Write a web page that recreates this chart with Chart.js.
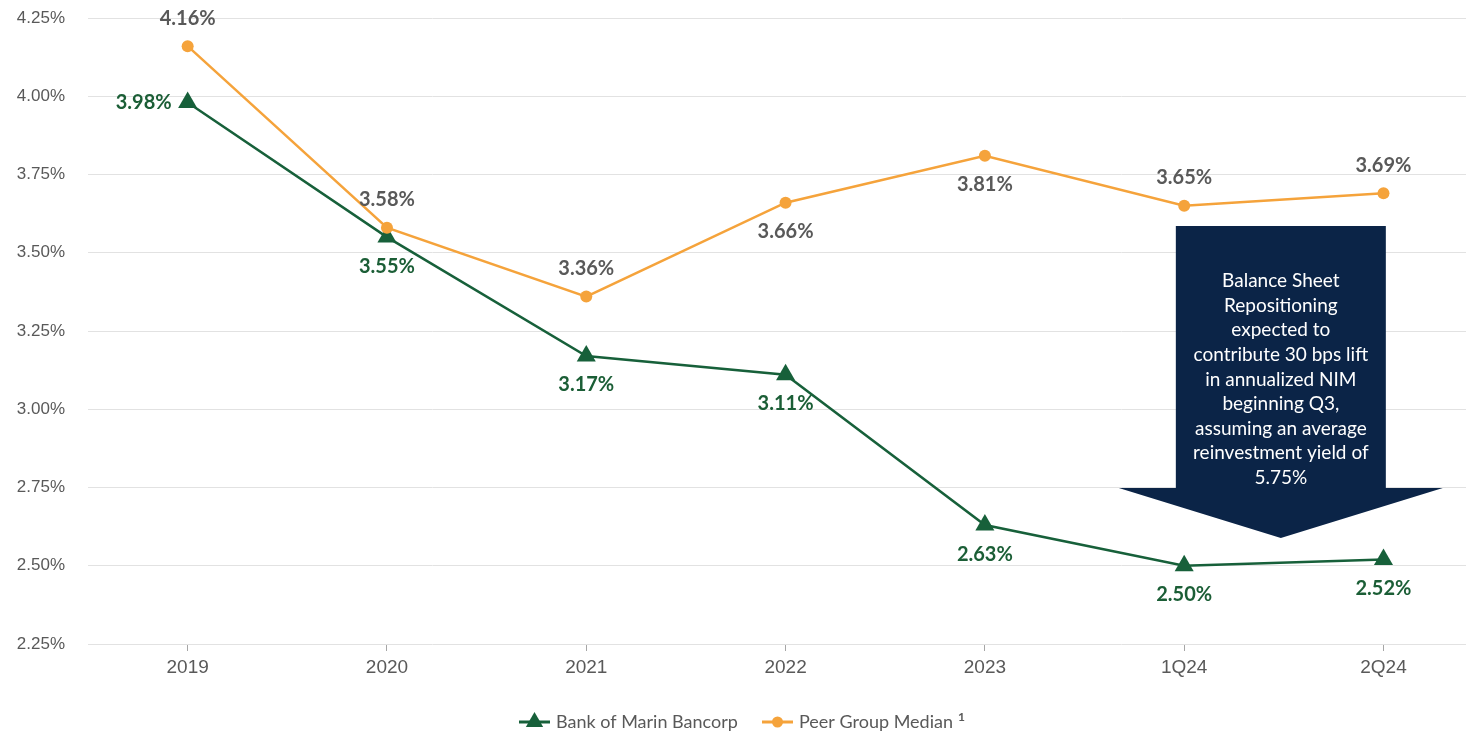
<!DOCTYPE html>
<html>
<head>
<meta charset="utf-8">
<title>Net Interest Margin</title>
<script src="https://cdn.jsdelivr.net/npm/chart.js@4.4.1/dist/chart.umd.min.js"></script>
<style>
  html, body { margin: 0; padding: 0; background: #ffffff; overflow: hidden; }
  canvas { display: block; }
</style>
</head>
<body>
<canvas id="nim" width="1466" height="736"></canvas>
<script>
// Net interest margin by period
const periods = ['2019', '2020', '2021', '2022', '2023', '1Q24', '2Q24'];
const bankNim = [3.98, 3.55, 3.17, 3.11, 2.63, 2.50, 2.52];
const peerNim = [4.16, 3.58, 3.36, 3.66, 3.81, 3.65, 3.69];
const yTicks = [2.25, 2.50, 2.75, 3.00, 3.25, 3.50, 3.75, 4.00, 4.25];

// where each value label sits relative to its point
const bankLabelSide = ['left', 'below', 'below', 'below', 'below', 'below', 'below'];
const peerLabelSide = ['above', 'above', 'above', 'below', 'below', 'above', 'above'];

const calloutLines = [
  'Balance Sheet', 'Repositioning', 'expected to', 'contribute 30 bps lift',
  'in annualized NIM', 'beginning Q3,', 'assuming an average',
  'reinvestment yield of', '5.75%'
];

const GREEN = '#17603a';
const ORANGE = '#f5a33b';
const GREY_TEXT = '#595959';
const NAVY = '#0b2447';

const pct = v => v.toFixed(2) + '%';
const toPoints = arr => arr.map((v, i) => ({ x: i, y: v }));

// value labels next to each point
const valueLabels = {
  id: 'valueLabels',
  afterDatasetsDraw(chart) {
    const ctx = chart.ctx;
    ctx.save();
    ctx.font = 'bold 20px Lato';
    ctx.textBaseline = 'middle';
    chart.data.datasets.forEach((ds, di) => {
      const meta = chart.getDatasetMeta(di);
      const sides = ds.labelSides;
      ctx.fillStyle = ds.labelColor;
      meta.data.forEach((pt, i) => {
        const side = sides[i];
        let x = pt.x, y = pt.y;
        if (side === 'left') { ctx.textAlign = 'right'; x -= 16; }
        else if (side === 'above') { ctx.textAlign = 'center'; y -= 28; }
        else { ctx.textAlign = 'center'; y += 29; }
        ctx.fillText(pct(ds.data[i].y), x, y);
      });
    });
    ctx.restore();
  }
};

// down-arrow callout over the last two quarters
const callout = {
  id: 'callout',
  afterDatasetsDraw(chart) {
    const ctx = chart.ctx;
    const xs = chart.scales.x;
    const cx = (xs.getPixelForValue(5) + xs.getPixelForValue(6)) / 2 - 3;
    const top = 226, shaftBottom = 488, tip = 538;
    const shaftHalf = 105, headHalf = 162;
    ctx.save();
    ctx.fillStyle = NAVY;
    ctx.beginPath();
    ctx.moveTo(cx - shaftHalf, top);
    ctx.lineTo(cx + shaftHalf, top);
    ctx.lineTo(cx + shaftHalf, shaftBottom);
    ctx.lineTo(cx + headHalf, shaftBottom);
    ctx.lineTo(cx, tip);
    ctx.lineTo(cx - headHalf, shaftBottom);
    ctx.lineTo(cx - shaftHalf, shaftBottom);
    ctx.closePath();
    ctx.fill();
    ctx.fillStyle = '#ffffff';
    ctx.font = '19px Lato';
    ctx.textAlign = 'center';
    ctx.textBaseline = 'middle';
    calloutLines.forEach((line, i) => {
      ctx.fillText(line, cx, 281 + i * 24.6);
    });
    ctx.restore();
  }
};

// legend with line-and-marker swatches
const lineLegend = {
  id: 'lineLegend',
  afterDraw(chart) {
    const ctx = chart.ctx;
    const y = 722;
    ctx.save();
    ctx.textBaseline = 'middle';
    ctx.textAlign = 'left';
    const items = [
      { x: 519, ds: chart.data.datasets[0] },
      { x: 762, ds: chart.data.datasets[1] }
    ];
    items.forEach(({ x, ds }) => {
      ctx.strokeStyle = ds.borderColor;
      ctx.lineWidth = 3;
      ctx.beginPath();
      ctx.moveTo(x, y);
      ctx.lineTo(x + 31, y);
      ctx.stroke();
      ctx.fillStyle = ds.pointBackgroundColor;
      Chart.helpers.drawPoint(ctx, {
        pointStyle: ds.pointStyle,
        radius: ds.pointStyle === 'triangle' ? 10 : 5.5,
        borderWidth: 0
      }, x + 15.5, y);
      ctx.font = '18px Lato';
      ctx.fillStyle = GREY_TEXT;
      ctx.fillText(ds.label, x + 37, y);
      if (ds.note) {
        const w = ctx.measureText(ds.label).width;
        ctx.font = 'bold 12px Lato';
        ctx.fillText(ds.note, x + 37 + w + 5, y - 5);
      }
    });
    ctx.restore();
  }
};

new Chart(document.getElementById('nim'), {
  type: 'line',
  data: {
    datasets: [
      {
        label: 'Bank of Marin Bancorp',
        data: toPoints(bankNim),
        borderColor: GREEN,
        backgroundColor: GREEN,
        pointBackgroundColor: GREEN,
        pointBorderColor: GREEN,
        borderWidth: 2.5,
        pointStyle: 'triangle',
        pointRadius: 11,
        pointBorderWidth: 0,
        tension: 0,
        labelSides: bankLabelSide,
        labelColor: '#1b5e36',
        order: 2
      },
      {
        label: 'Peer Group Median',
        note: '1',
        data: toPoints(peerNim),
        borderColor: ORANGE,
        backgroundColor: ORANGE,
        pointBackgroundColor: ORANGE,
        pointBorderColor: ORANGE,
        borderWidth: 2.5,
        pointStyle: 'circle',
        pointRadius: 6,
        pointBorderWidth: 0,
        tension: 0,
        labelSides: peerLabelSide,
        labelColor: GREY_TEXT,
        order: 1
      }
    ]
  },
  options: {
    responsive: false,
    animation: false,
    clip: false,
    layout: { autoPadding: false, padding: { top: 18, left: 0, right: 0, bottom: 0 } },
    plugins: {
      legend: { display: false },
      tooltip: { enabled: false }
    },
    scales: {
      x: {
        type: 'linear',
        min: -0.5,
        max: 6.414,
        afterFit(scale) {
          scale.height = 92;
          scale.paddingLeft = 0;
          scale.paddingRight = 0;
        },
        afterBuildTicks(scale) { scale.ticks = periods.map((_, i) => ({ value: i })); },
        grid: {
          display: true,
          drawOnChartArea: false,
          drawTicks: true,
          tickLength: 7,
          color: '#a6a6a6'
        },
        border: { display: false },
        ticks: {
          color: GREY_TEXT,
          font: { family: 'Liberation Sans', size: 19 },
          padding: 5,
          maxRotation: 0,
          autoSkip: false,
          callback: v => periods[v]
        }
      },
      y: {
        min: 2.25,
        max: 4.25,
        afterFit(scale) {
          scale.width = 88;
          scale.paddingTop = 0;
          scale.paddingBottom = 0;
        },
        afterBuildTicks(scale) { scale.ticks = yTicks.map(v => ({ value: v })); },
        grid: {
          color: '#e2e2e2',
          lineWidth: 1,
          drawTicks: true,
          tickLength: 23,
          tickColor: 'rgba(0,0,0,0)'
        },
        border: { display: false },
        ticks: {
          color: GREY_TEXT,
          font: { family: 'Liberation Sans', size: 17 },
          padding: 0,
          callback: v => pct(v)
        }
      }
    }
  },
  plugins: [valueLabels, callout, lineLegend]
});
</script>
</body>
</html>
